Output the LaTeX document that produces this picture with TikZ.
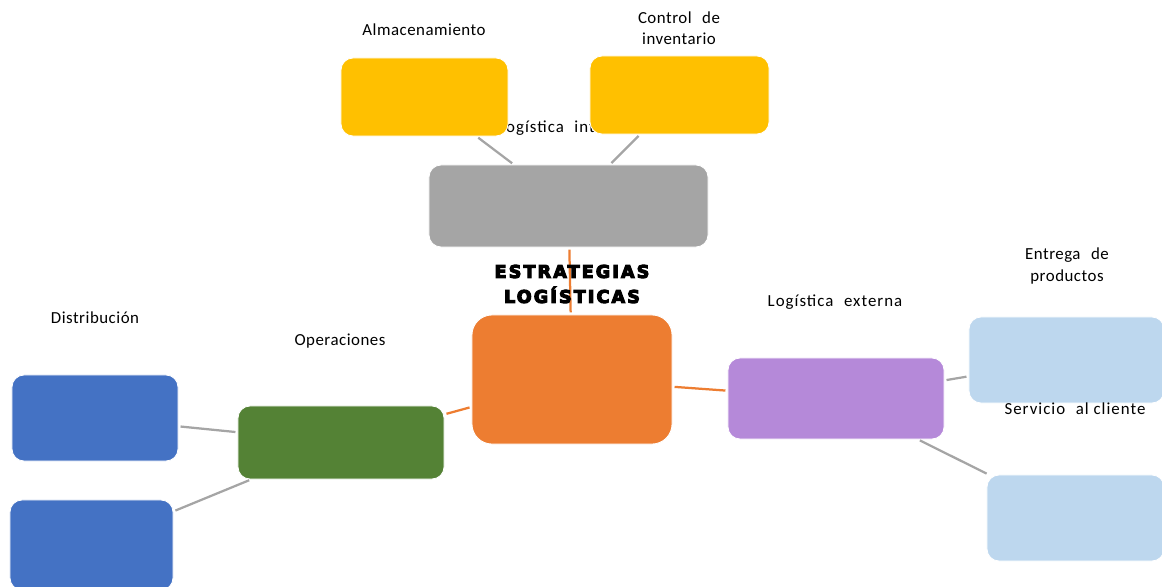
\documentclass[tikz,border=0pt]{standalone}
\usepackage{fontspec}
\setmainfont{Carlito}[LetterSpace=3]
\newfontfamily\titlefont{DejaVu Sans}[LetterSpace=12, BoldFeatures={FakeBold=6}]
\usetikzlibrary{positioning}
\definecolor{cyellow}{HTML}{FFC000}
\definecolor{cgray}{HTML}{A5A5A5}
\definecolor{corange}{HTML}{ED7D31}
\definecolor{cpurple}{HTML}{B589D9}
\definecolor{clblue}{HTML}{BDD7EE}
\definecolor{cgreen}{HTML}{548235}
\definecolor{cblue}{HTML}{4472C4}
\newcommand\wsp{\hspace{7.5pt}}

\begin{document}
\begin{tikzpicture}[x=0.025cm, y=-0.025cm,
  box/.style={draw=white, line width=0.6pt, rounded corners=0.3cm, inner sep=0pt},
  link/.style={line width=1.6pt, draw=cgray, shorten <=1.5pt, shorten >=1.5pt},
  olink/.style={link, draw=corange},
  lbl/.style={font=\fontsize{12}{15}\selectfont, align=center, inner sep=0pt},
  widelbl/.style={lbl, font=\fontsize{12}{15}\selectfont\addfontfeature{LetterSpace=6}}]
\path[use as bounding box] (0,0) rectangle (1162,586);
\clip (0,0) rectangle (1162,586);
% text that the yellow boxes cover
\node[widelbl] (lblintern) at (564,128) {Logística\wsp interna};
% boxes
\node[box, fill=cyellow, minimum width=4.175cm, minimum height=1.95cm] (almac) at (424.5,97) {};
\node[box, fill=cyellow, minimum width=4.475cm, minimum height=1.95cm] (control) at (679.5,95) {};
\node[box, fill=cgray, minimum width=6.975cm, minimum height=2.05cm] (intern) at (568.5,206) {};
\node[box, fill=corange, rounded corners=0.5cm, minimum width=5cm, minimum height=3.225cm] (centro) at (572,379.5) {};
\node[box, fill=cpurple, minimum width=5.4cm, minimum height=2.025cm] (extern) at (836,398.5) {};
\node[box, fill=clblue, minimum width=4.875cm, minimum height=2.15cm] (entrega) at (1066.5,360) {};
\node[box, fill=clblue, minimum width=4.425cm, minimum height=2.15cm] (servicio) at (1075.5,518) {};
\node[box, fill=cgreen, minimum width=5.15cm, minimum height=1.825cm] (oper) at (341,442.5) {};
\node[box, fill=cblue, minimum width=4.15cm, minimum height=2.15cm] (distA) at (95,418) {};
\node[box, fill=cblue, minimum width=4.075cm, minimum height=2.25cm] (distB) at (91.5,545) {};
% connectors
\draw[link] (almac) -- (intern);
\draw[link] (control) -- (intern);
\draw[olink] (intern) -- (centro);
\draw[olink] (centro) -- (oper);
\draw[olink] (centro) -- (extern);
\draw[link] (extern) -- (entrega);
\draw[link] (extern) -- (servicio);
\draw[link] (distA) -- (oper);
\draw[link] (distB) -- (oper);
% labels
\node[lbl] (lblalmac) at (424,30) {Almacenamiento};
\node[lbl] (lblcontrol) at (679,28) {Control\wsp de\\inventario};
\node[lbl, font=\titlefont\bfseries\fontsize{12.5}{17.8}\selectfont] (lblcentro) at (572,284) {ESTRATEGIAS\\LOGÍSTICAS};
\node[widelbl] (lblextern) at (835,302) {Logística\wsp externa};
\node[lbl] (lblentrega) at (1067,266) {Entrega\wsp de\\productos};
\node[widelbl] (lblservicio) at (1075,409) {Servicio\wsp al cliente};
\node[lbl] (lbldist) at (95,318) {Distribución};
\node[lbl] (lbloper) at (340,341) {Operaciones};
\end{tikzpicture}
\end{document}
